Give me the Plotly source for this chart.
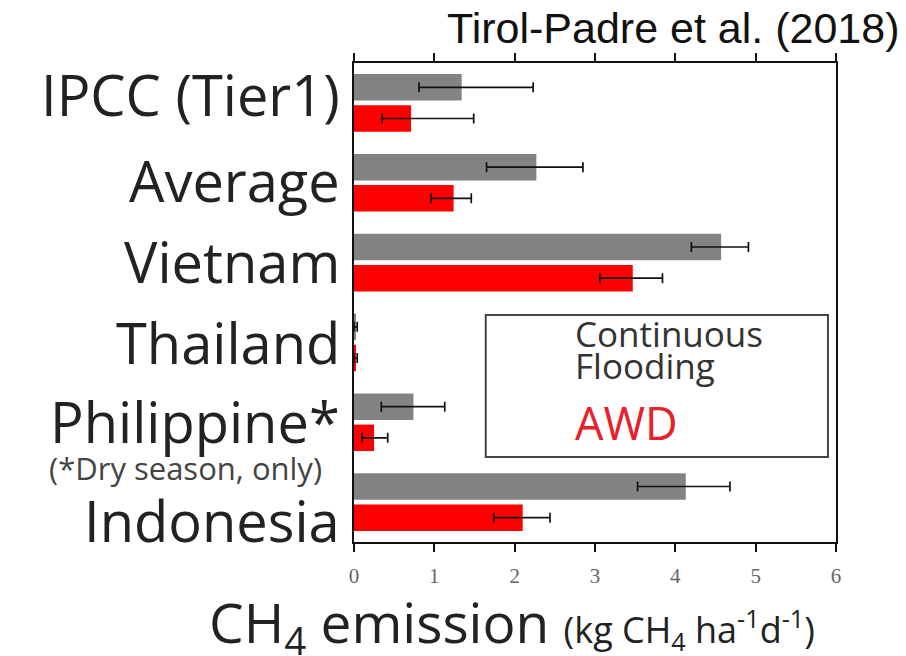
import plotly.graph_objects as go

categories = ["IPCC (Tier1)", "Average", "Vietnam", "Thailand", "Philippine*", "Indonesia"]
cf_values = [1.34, 2.27, 4.57, 0.02, 0.74, 4.13]
cf_err_minus = [0.53, 0.62, 0.37, 0.02, 0.40, 0.60]
cf_err_plus = [0.89, 0.58, 0.34, 0.02, 0.39, 0.55]
awd_values = [0.71, 1.24, 3.47, 0.02, 0.25, 2.10]
awd_err_minus = [0.36, 0.28, 0.41, 0.02, 0.15, 0.36]
awd_err_plus = [0.78, 0.22, 0.37, 0.02, 0.17, 0.34]
x_ticks = [0, 1, 2, 3, 4, 5, 6]
label_offsets = [-0.11, -0.034, -0.02, 0.0, -0.01, 0.23]

fig = go.Figure()
fig.add_trace(go.Bar(
    y=categories, x=cf_values, orientation="h", name="Continuous Flooding",
    marker=dict(color="#838383", line=dict(width=0)),
    error_x=dict(type="data", symmetric=False, array=cf_err_plus, arrayminus=cf_err_minus,
                 color="#111111", thickness=1.7, width=5),
))
fig.add_trace(go.Bar(
    y=categories, x=awd_values, orientation="h", name="AWD",
    marker=dict(color="#ff0000", line=dict(width=0)),
    error_x=dict(type="data", symmetric=False, array=awd_err_plus, arrayminus=awd_err_minus,
                 color="#111111", thickness=1.7, width=5),
))

label_font = dict(family="Open Sans", size=56, color="#222222")
annotations = []
for i, cat in enumerate(categories):
    annotations.append(dict(
        x=0, xref="paper", xanchor="right", xshift=-12,
        y=i + label_offsets[i], yref="y", yanchor="middle",
        text=cat, showarrow=False, font=label_font,
    ))
annotations.append(dict(
    x=0, xref="paper", xanchor="right", xshift=-30,
    y=4.574, yref="y", yanchor="middle",
    text="(*Dry season, only)", showarrow=False,
    font=dict(family="Open Sans", size=31, color="#444444"),
))
annotations.append(dict(
    x=1.0, xref="paper", xanchor="right", xshift=66,
    y=1.0, yref="paper", yanchor="bottom", yshift=9,
    text="Tirol-Padre et al. (2018)", showarrow=False,
    font=dict(family="Liberation Sans", size=43, color="#111111"),
))
annotations.append(dict(
    x=0, xref="paper", xanchor="left", xshift=-147,
    y=0, yref="paper", yanchor="top", yshift=-40,
    text="CH<sub>4</sub> emission <span style='font-size:36px'>(kg CH<sub>4</sub> ha<sup>-1</sup>d<sup>-1</sup>)</span>",
    showarrow=False,
    font=dict(family="Open Sans", size=55, color="#222222"),
))
annotations.append(dict(
    x=2.72, xref="x", xanchor="left",
    y=2.89, yref="y", yanchor="middle",
    text="Continuous", showarrow=False,
    font=dict(family="Open Sans", size=35, color="#333333"),
))
annotations.append(dict(
    x=2.72, xref="x", xanchor="left",
    y=3.29, yref="y", yanchor="middle",
    text="Flooding", showarrow=False,
    font=dict(family="Open Sans", size=35, color="#333333"),
))
annotations.append(dict(
    x=2.72, xref="x", xanchor="left",
    y=4.0, yref="y", yanchor="middle",
    text="AWD", showarrow=False,
    font=dict(family="Open Sans", size=45, color="#e8202a"),
))

fig.add_shape(type="rect", xref="x", yref="y", x0=1.64, x1=5.9, y0=2.657, y1=4.435,
              line=dict(color="#444444", width=2), fillcolor="rgba(0,0,0,0)")

fig.update_layout(
    width=906, height=656,
    margin=dict(l=354, r=70, t=63, b=114),
    paper_bgcolor="white", plot_bgcolor="white",
    barmode="group", bargap=0.22, bargroupgap=0.15,
    showlegend=False,
    annotations=annotations,
    xaxis=dict(range=[0, 6], tickvals=x_ticks, ticks="outside", ticklen=8, tickwidth=2,
               tickcolor="#111111", showline=True, linecolor="#111111", linewidth=2,
               mirror="ticks", showgrid=False, zeroline=False, ticklabelstandoff=6,
               tickfont=dict(family="Liberation Serif", size=21, color="#666666")),
    yaxis=dict(range=[5.5, -0.5], showticklabels=False, ticks="", showline=True,
               linecolor="#111111", linewidth=2, mirror=True, showgrid=False),
)

fig.write_html("out.html", config={"displayModeBar": False},
               post_script="document.body.style.margin='0';")
